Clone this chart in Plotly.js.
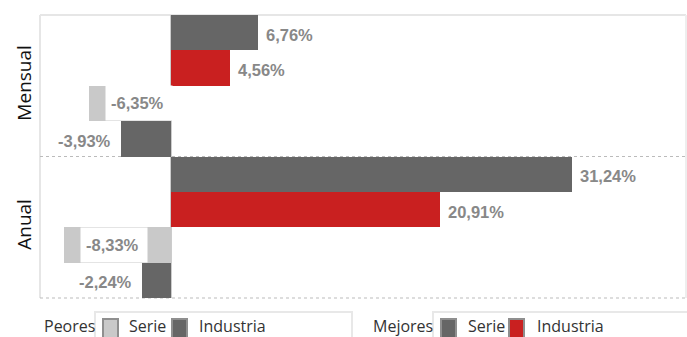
<!DOCTYPE html>
<html>
<head>
<meta charset="utf-8">
<script src="https://cdn.plot.ly/plotly-3.0.1.min.js"></script>
<style>html,body{margin:0;padding:0;background:#fff;} #chart{width:687px;height:337px;}</style>
</head>
<body>
<div id="chart"></div>
<script>
// ---- data ----
const categories = ['Mensual', 'Anual'];
const mejoresSerie = [6.76, 31.24];
const mejoresIndustria = [4.56, 20.91];
const peoresSerie = [-6.35, -8.33];
const peoresIndustria = [-3.93, -2.24];
const seriesNames = ['Mejores Serie', 'Mejores Industria', 'Peores Serie', 'Peores Industria'];
const legendLabels = ['Serie', 'Industria'];

// ---- layout constants ----
const W = 687, H = 337;
const M = {l: 40, r: 1, t: 15, b: 39};
const plotW = W - M.l - M.r, plotH = H - M.t - M.b;
const colors = ['#666666', '#c92020', '#c9c9c9', '#666666'];
const allSeries = [mejoresSerie, mejoresIndustria, peoresSerie, peoresIndustria];

const traces = allSeries.map((vals, i) => ({
  type: 'bar', orientation: 'h', name: seriesNames[i],
  x: vals, y: categories, marker: {color: colors[i], line: {width: 0}},
  hoverinfo: 'none', showlegend: false
}));

const fmt = v => v.toFixed(2).replace('.', ',') + '%';
const barPx = plotH / categories.length / allSeries.length;
const annotations = [];
allSeries.forEach((vals, i) => {
  vals.forEach((v, j) => {
    const yshift = -(i - (allSeries.length - 1) / 2) * barPx - 2;
    let a = {x: v, y: categories[j], xref: 'x', yref: 'y', text: '<b>' + fmt(v) + '</b>',
      showarrow: false, yshift: yshift, font: {family: 'Liberation Sans, Arial', size: 16.5, color: '#888888'}};
    if (v >= 0) { a.xanchor = 'left'; a.xshift = 4; a.borderpad = 3; }
    else if (i === 2) { a.xanchor = 'left'; a.xshift = 16; a.bgcolor = '#ffffff'; a.borderpad = 5;
      a.height = 24; a.width = 56; a.align = 'left'; a.yshift = yshift + 2; }
    else { a.xanchor = 'right'; a.xshift = -5; a.bgcolor = '#ffffff'; a.borderpad = 4; }
    annotations.push(a);
  });
});

// legend (custom, pixel based)
const px = p => (p - M.l) / plotW;
const py = p => (H - M.b - p) / plotH;
const legFont = {family: 'Open Sans', size: 16, color: '#333333'};
const legendGroups = [
  {title: 'Peores', tx: 42, box: [95, 352], sw: [[103, 118], [172, 187]], lx: [127, 197], c: [colors[2], colors[3]]},
  {title: 'Mejores', tx: 371, box: [433, 692], sw: [[441, 456], [509, 524]], lx: [466, 535], c: [colors[0], colors[1]]}
];
const shapes = [
  // frame
  {type: 'line', xref: 'paper', yref: 'paper', x0: 0, x1: 0, y0: 0, y1: 1, line: {color: '#e6e6e6', width: 2}, layer: 'below'},
  {type: 'line', xref: 'paper', yref: 'paper', x0: 0, x1: 1, y0: 1, y1: 1, line: {color: '#e6e6e6', width: 2}, layer: 'below'},
  {type: 'line', xref: 'paper', yref: 'paper', x0: 1, x1: 1, y0: 0, y1: 1, line: {color: '#eeeeee', width: 2}, layer: 'below'},
  {type: 'line', xref: 'paper', yref: 'y', x0: 0, x1: 1, y0: 0.5, y1: 0.5, line: {color: '#bbbbbb', width: 1, dash: 'dot'}, layer: 'below'},
  {type: 'line', xref: 'paper', yref: 'paper', x0: 0, x1: 1, y0: 0, y1: 0, line: {color: '#bbbbbb', width: 1, dash: 'dot'}, layer: 'below'}
];
legendGroups.forEach(g => {
  annotations.push({xref: 'paper', yref: 'paper', x: px(g.tx), y: py(326), xanchor: 'left', yanchor: 'middle',
    text: g.title, showarrow: false, font: legFont});
  shapes.push({type: 'rect', xref: 'paper', yref: 'paper', x0: px(g.box[0]), x1: px(g.box[1]), y0: py(345), y1: py(312),
    line: {color: '#e8e8e8', width: 2}, fillcolor: 'rgba(0,0,0,0)'});
  g.sw.forEach((s, k) => {
    shapes.push({type: 'rect', xref: 'paper', yref: 'paper', x0: px(s[0]), x1: px(s[1]), y0: py(338), y1: py(319),
      line: {color: '#8f8f8f', width: 2}, fillcolor: g.c[k]});
    annotations.push({xref: 'paper', yref: 'paper', x: px(g.lx[k]), y: py(326), xanchor: 'left', yanchor: 'middle',
      text: legendLabels[k], showarrow: false, font: legFont});
  });
});

const layout = {
  width: W, height: H, margin: M,
  paper_bgcolor: '#ffffff', plot_bgcolor: '#ffffff',
  barmode: 'group', bargap: 0, bargroupgap: 0,
  showlegend: false,
  xaxis: {range: [-10.2, 40.1], showgrid: false, showticklabels: false, ticks: '',
    zeroline: true, zerolinecolor: '#cccccc', zerolinewidth: 2, fixedrange: true},
  yaxis: {type: 'category', autorange: 'reversed', showgrid: false, ticks: '', tickangle: -90,
    tickfont: {family: 'Open Sans', size: 19, color: '#111111'}, ticklabelstandoff: 4, zeroline: false},
  annotations: annotations,
  shapes: shapes
};
Plotly.newPlot('chart', traces, layout, {staticPlot: true, displayModeBar: false});
</script>
</body>
</html>
